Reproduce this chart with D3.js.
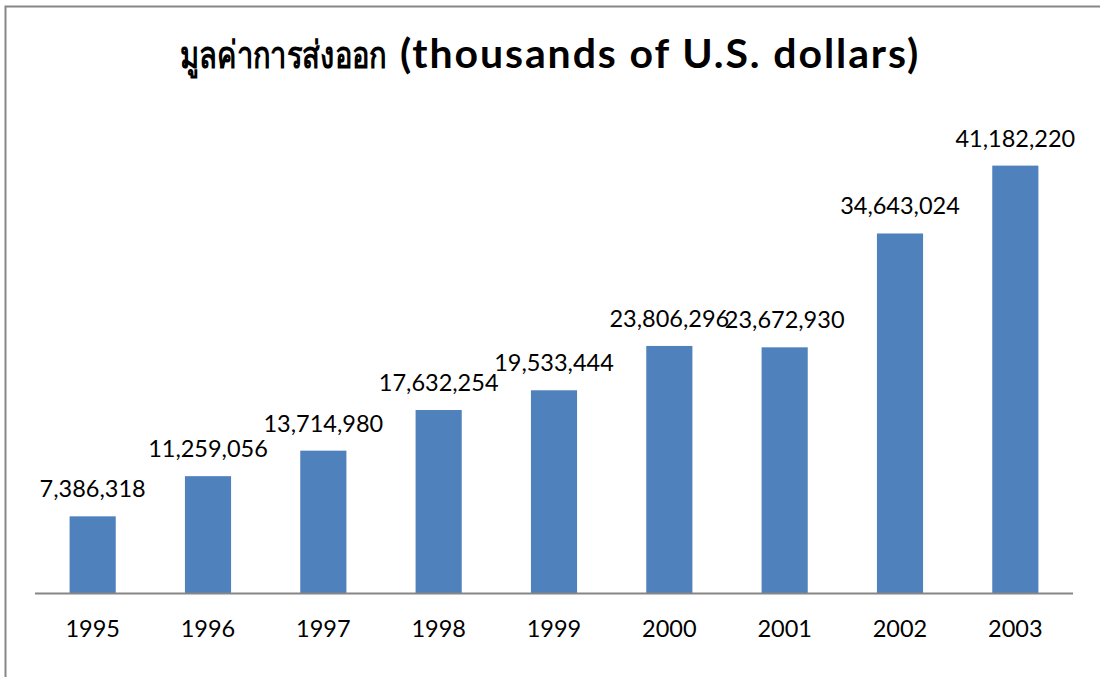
<!DOCTYPE html>
<html>
<head>
<meta charset="utf-8">
<script src="https://cdn.jsdelivr.net/npm/d3@7"></script>
<style>
  html, body { margin: 0; padding: 0; background: #fff; }
  svg { display: block; }
</style>
</head>
<body>
<svg id="chart" width="1100" height="677"></svg>
<script>
// Export values per year, thousands of U.S. dollars
const years = ["1995", "1996", "1997", "1998", "1999", "2000", "2001", "2002", "2003"];
const exportValues = [7386318, 11259056, 13714980, 17632254, 19533444, 23806296, 23672930, 34643024, 41182220];
const titleThai = "มูลค่าการส่งออก";
const titleEnglish = "(thousands of U.S. dollars)";

const svg = d3.select("#chart");
const W = 1100, H = 677;
const plot = { left: 35, right: 1073, top: 126, bottom: 593 };
const barColor = "#4F81BD";
const labelFont = "Lato, 'Open Sans', sans-serif";

// chart frame (extends past the visible area on the right and bottom)
svg.append("rect")
  .attr("x", 5.5).attr("y", 6.5)
  .attr("width", W + 20).attr("height", H + 20)
  .attr("fill", "#fff")
  .attr("stroke", "#878787")
  .attr("stroke-width", 2);

const x = d3.scaleBand()
  .domain(years)
  .range([plot.left, plot.right])
  .paddingInner(0.6)
  .paddingOuter(0.3);

const y = d3.scaleLinear()
  .domain([0, 45000000])
  .range([plot.bottom, plot.top]);

const data = years.map((yr, i) => ({ year: yr, value: exportValues[i] }));

// bars
svg.append("g")
  .selectAll("rect")
  .data(data)
  .join("rect")
  .attr("x", d => x(d.year))
  .attr("y", d => y(d.value))
  .attr("width", x.bandwidth())
  .attr("height", d => y(0) - y(d.value))
  .attr("fill", barColor);

// value labels above bars
svg.append("g")
  .selectAll("text")
  .data(data)
  .join("text")
  .attr("x", d => x(d.year) + x.bandwidth() / 2)
  .attr("y", d => y(d.value) - 19)
  .attr("text-anchor", "middle")
  .attr("font-family", labelFont)
  .attr("font-size", 23.5)
  .attr("fill", "#000")
  .text(d => d3.format(",")(d.value));

// category axis
const xAxis = svg.append("g")
  .attr("transform", `translate(0,${plot.bottom})`)
  .call(d3.axisBottom(x).tickSize(0).tickPadding(0));
xAxis.select(".domain")
  .attr("d", `M${plot.left},0.5H${plot.right}`)
  .attr("stroke", "#868686")
  .attr("stroke-width", 2);
xAxis.selectAll(".tick text")
  .attr("y", 44)
  .attr("dy", null)
  .attr("font-family", labelFont)
  .attr("font-size", 23.5)
  .attr("fill", "#000");

// title: Thai part in a condensed bold face, English part in bold
const titleBaseline = 68;
const thaiLeft = 180, thaiWidth = 206;
const thai = svg.append("text")
  .attr("font-family", "'Noto Sans', 'DejaVu Sans', sans-serif")
  .attr("font-weight", "bold")
  .attr("font-size", 38)
  .attr("fill", "#000")
  .text(titleThai);
const thaiNatural = thai.node().getComputedTextLength();
const sx = thaiWidth / thaiNatural;
thai.attr("transform", `translate(${thaiLeft},${titleBaseline}) scale(${sx},1)`);

svg.append("text")
  .attr("x", 400)
  .attr("y", titleBaseline)
  .attr("font-family", labelFont)
  .attr("font-weight", "bold")
  .attr("font-size", 41)
  .attr("letter-spacing", 1.9)
  .attr("fill", "#000")
  .text(titleEnglish);
</script>
</body>
</html>
